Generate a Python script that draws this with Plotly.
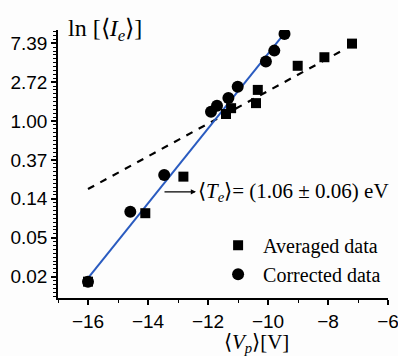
import plotly.graph_objects as go

# Averaged data (squares): x = <Vp> [V], y = ln<Ie>
avg_x = [-16.0, -14.09, -12.82, -11.4, -11.23, -10.4, -10.34, -9.01, -8.12, -7.2]
avg_y = [-4.13, -2.37, -1.43, 0.18, 0.33, 0.46, 0.8, 1.42, 1.64, 1.99]

# Corrected data (circles)
cor_x = [-16.0, -14.59, -13.46, -11.9, -11.7, -11.32, -11.01, -10.07, -9.79, -9.45]
cor_y = [-4.13, -2.33, -1.39, 0.24, 0.39, 0.59, 0.88, 1.53, 1.81, 2.24]

# Fit lines
fit_cor_x = [-16.0, -9.5]
fit_cor_y = [-4.04, 2.21]
fit_avg_x = [-16.0, -7.6]
fit_avg_y = [-1.75, 1.78]

ytick_vals = [-4, -3, -2, -1, 0, 1, 2]
ytick_text = ["0.02", "0.05", "0.14", "0.37", "1.00", "2.72", "7.39"]
xtick_vals = [-16, -14, -12, -10, -8, -6]

fig = go.Figure()
fig.add_trace(go.Scatter(x=fit_avg_x, y=fit_avg_y, mode="lines",
                         line=dict(color="black", width=2.2, dash="7px,7px"),
                         showlegend=False, hoverinfo="skip"))
fig.add_trace(go.Scatter(x=fit_cor_x, y=fit_cor_y, mode="lines",
                         line=dict(color="#2a5bc0", width=2),
                         showlegend=False, hoverinfo="skip"))
fig.add_trace(go.Scatter(x=avg_x, y=avg_y, mode="markers",
                         marker=dict(symbol="square", size=10, color="black"),
                         name="Averaged data"))
fig.add_trace(go.Scatter(x=cor_x, y=cor_y, mode="markers",
                         marker=dict(symbol="circle", size=12, color="black"),
                         name="Corrected data"))

serif = "Liberation Serif, Times New Roman, serif"
sans = "Liberation Sans, Arial, sans-serif"

fig.update_layout(
    width=398, height=356,
    margin=dict(l=58, r=10, t=30, b=58, autoexpand=False),
    paper_bgcolor="#fdfdfd", plot_bgcolor="#fdfdfd",
    showlegend=True,
    legend=dict(x=0.47, y=0.27, xanchor="left", yanchor="top",
                font=dict(family=serif, size=20, color="black"),
                bgcolor="rgba(0,0,0,0)", itemwidth=40, tracegroupgap=0),
    xaxis=dict(range=[-17, -6], tickvals=xtick_vals, showgrid=False, zeroline=False,
               automargin=False, ticklabeloverflow="allow",
               showline=True, linecolor="black", linewidth=1.5,
               ticks="outside", ticklen=5, tickwidth=1.5, tickcolor="black",
               minor=dict(dtick=1, tick0=-17, ticks="outside", ticklen=3, tickcolor="black", tickwidth=1.2),
               tickfont=dict(family=sans, size=19, color="black")),
    yaxis=dict(range=[-4.55, 2.34], tickvals=ytick_vals, ticktext=ytick_text,
               showgrid=False, zeroline=False, automargin=False,
               showline=True, linecolor="black", linewidth=1.5,
               ticks="outside", ticklen=5, tickwidth=1.5, tickcolor="black",
               minor=dict(dtick=0.1, tick0=0, ticks="outside", ticklen=3, tickcolor="black", tickwidth=1),
               tickfont=dict(family=sans, size=19, color="black")),
)

fig.add_annotation(xref="paper", yref="paper", x=0.025, y=1.0, xanchor="left", yanchor="middle",
                   text="ln [⟨<i>I</i><sub><i>e</i></sub>⟩]", showarrow=False,
                   font=dict(family=serif, size=24, color="black"))
fig.add_annotation(xref="paper", yref="paper", x=0.6, y=-0.113, xanchor="center", yanchor="top",
                   text="⟨<i>V</i><sub><i>p</i></sub>⟩[V]", showarrow=False,
                   font=dict(family=serif, size=21, color="black"))
# arrow
fig.add_annotation(xref="x", yref="y", x=-12.4, y=-1.82, axref="x", ayref="y",
                   ax=-13.5, ay=-1.82, text="", showarrow=True,
                   arrowhead=2, arrowsize=0.8, arrowwidth=1.3, arrowcolor="black",
                   standoff=0, startstandoff=0)
fig.add_annotation(xref="x", yref="y", x=-12.4, y=-1.82, xanchor="left", yanchor="middle",
                   text="⟨<i>T</i><sub><i>e</i></sub>⟩= (1.06 ± 0.06) eV", showarrow=False,
                   font=dict(family=serif, size=21, color="black"))

fig.write_html("out.html", config={"displayModeBar": False},
               post_script="document.body.style.margin='0px';document.body.style.overflow='hidden';")
